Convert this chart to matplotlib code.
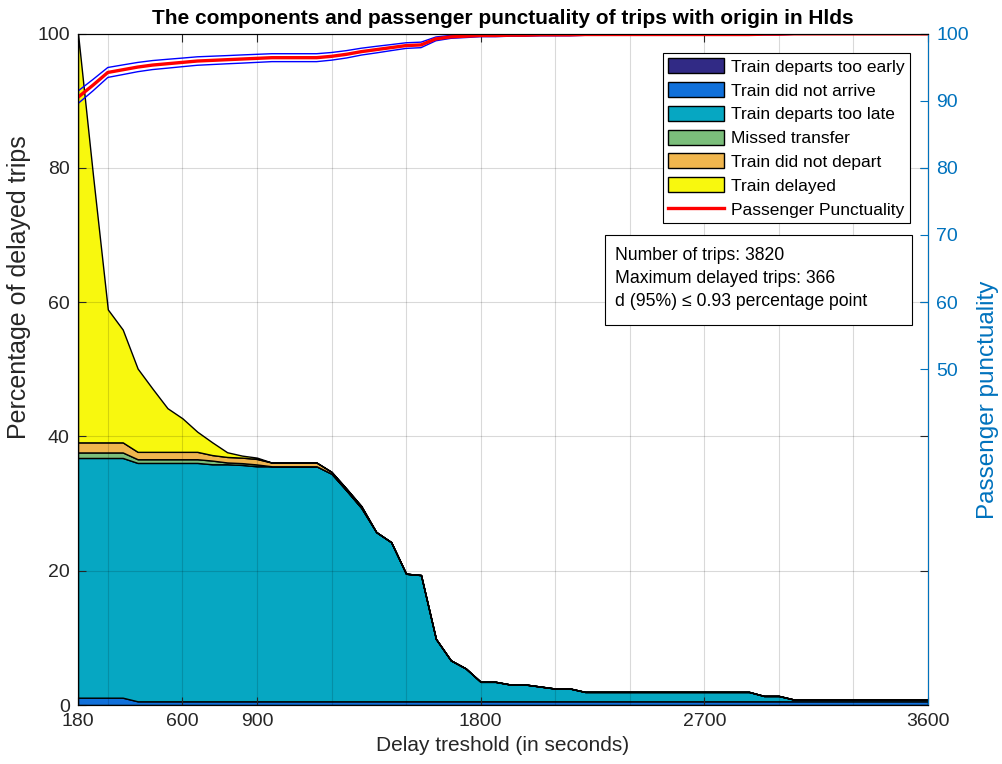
import matplotlib
matplotlib.use("Agg")
import matplotlib.pyplot as plt
from matplotlib.patches import Patch, Rectangle
from matplotlib.lines import Line2D

plt.rcParams['font.family'] = ['Liberation Sans', 'DejaVu Sans']

# delay thresholds (s)
thresholds = [180, 240, 300, 360, 420, 480, 540, 600, 660, 720, 780, 840, 900, 960,
              1020, 1080, 1140, 1200, 1260, 1320, 1380, 1440, 1500, 1560, 1620, 1680,
              1740, 1800, 1860, 1920, 1980, 2040, 2100, 2160, 2220, 2280, 2340, 2400,
              2460, 2520, 2580, 2640, 2700, 2760, 2820, 2880, 2940, 3000, 3060, 3120,
              3180, 3240, 3300, 3360, 3420, 3480, 3540, 3600]

# components, percentage of delayed trips
departs_early = [0.0] * 58
did_not_arrive = [1.09, 1.09, 1.09, 1.09] + [0.55] * 54
departs_late = [35.7, 35.7, 35.7, 35.7, 35.5, 35.5, 35.5, 35.5, 35.5, 35.3, 35.3, 35.2,
                35.0, 35.0, 35.0, 35.0, 35.0, 33.9, 31.4, 28.8, 25.2, 23.7, 19.0, 18.8,
                9.3, 6.1, 4.9, 2.9, 2.9, 2.5, 2.5, 2.2, 1.9, 1.9, 1.4, 1.4, 1.4, 1.4,
                1.4, 1.4, 1.4, 1.4, 1.4, 1.4, 1.4, 1.4, 0.8, 0.8, 0.27, 0.27, 0.27,
                0.27, 0.27, 0.27, 0.27, 0.27, 0.27, 0.27]
missed_transfer = [0.82, 0.82, 0.82, 0.82, 0.55, 0.55, 0.55, 0.55, 0.55, 0.55, 0.27,
                   0.27, 0.27] + [0.0] * 45
did_not_depart = [1.5, 1.5, 1.5, 1.5, 1.1, 1.1, 1.1, 1.1, 1.1, 0.82, 0.82, 0.82, 0.82,
                  0.55, 0.55, 0.55, 0.55, 0.27, 0.27, 0.27] + [0.0] * 38
train_delayed = [60.9, 39.9, 19.8, 16.8, 12.4, 9.4, 6.5, 5.0, 3.0, 1.9, 0.7, 0.3,
                 0.2] + [0.0] * 45

# passenger punctuality (%) and 95% half-width
punctuality = [90.5, 92.3, 94.2, 94.6, 95.0, 95.3, 95.5, 95.7, 95.9, 96.0, 96.1, 96.2,
               96.3, 96.4, 96.4, 96.4, 96.4, 96.6, 96.9, 97.3, 97.6, 97.9, 98.2, 98.3,
               99.2, 99.5, 99.6, 99.7, 99.7, 99.75, 99.75, 99.8, 99.8, 99.8, 99.85,
               99.85, 99.85, 99.85, 99.85, 99.85, 99.85, 99.85, 99.85, 99.85, 99.85,
               99.85, 99.9, 99.9, 99.95, 99.95, 99.95, 99.95, 99.95, 99.95, 99.95,
               99.95, 99.95, 99.95]
half_width = [0.93, 0.85, 0.74, 0.72, 0.69, 0.67, 0.66, 0.64, 0.63, 0.62, 0.61, 0.61,
              0.60, 0.59, 0.59, 0.59, 0.59, 0.57, 0.55, 0.51, 0.49, 0.45, 0.42, 0.41,
              0.28, 0.22, 0.20, 0.17, 0.17, 0.15, 0.15, 0.14, 0.14, 0.14, 0.12, 0.12,
              0.12, 0.12, 0.12, 0.12, 0.12, 0.12, 0.12, 0.12, 0.12, 0.12, 0.10, 0.10,
              0.07, 0.07, 0.07, 0.07, 0.07, 0.07, 0.07, 0.07, 0.07, 0.07]

labels = ['Train departs too early', 'Train did not arrive', 'Train departs too late',
          'Missed transfer', 'Train did not depart', 'Train delayed']
colors = ['#312A85', '#1070DA', '#06A7C2', '#7BBE7B', '#F0B64E', '#F8F80E']
xticks = [180, 600, 900, 1800, 2700, 3600]
info_lines = ['Number of trips: 3820', 'Maximum delayed trips: 366',
              'd (95%) \u2264 0.93 percentage point']
blue = '#0072BD'
dark = '#262626'

W, H = 1002, 764
L, R, T, B = 78, 928, 33.5, 705


def ax_x(px):
    return (px - L) / (R - L)


def ax_y(py):
    return (B - py) / (B - T)


fig = plt.figure(figsize=(W / 100, H / 100), dpi=100)
ax = fig.add_axes([L / W, 1 - B / H, (R - L) / W, (B - T) / H])

polys = ax.stackplot(thresholds, departs_early, did_not_arrive, departs_late,
                     missed_transfer, did_not_depart, train_delayed,
                     colors=colors, edgecolor='black', linewidth=1.0)

ax.set_xlim(180, 3600)
ax.set_ylim(0, 100)
ax.set_xticks(xticks)
ax.set_xticks(list(range(300, 3600, 300)), minor=True)
ax.set_yticks([0, 20, 40, 60, 80, 100])
ax.grid(True, which='both', color='black', alpha=0.15, linewidth=0.8)
ax.set_axisbelow(False)
ax.tick_params(which='major', direction='in', length=6, top=True, right=True,
               labelsize=14, colors=dark, pad=6)
ax.tick_params(which='minor', length=0)
for s in ax.spines.values():
    s.set_color(dark)
    s.set_linewidth(0.8)
ax.set_xlabel('Delay treshold (in seconds)', fontsize=15, color=dark, labelpad=4)
ax.set_ylabel('Percentage of delayed trips', fontsize=18, color=dark)
ax.yaxis.set_label_coords(ax_x(31), ax_y(287))
ax.set_title('The components and passenger punctuality of trips with origin in Hlds',
             fontsize=15, fontweight='bold', color='black', pad=7)

ax2 = ax.twinx()
ax.tick_params(which='major', right=True)
lower = [p - h for p, h in zip(punctuality, half_width)]
upper = [p + h for p, h in zip(punctuality, half_width)]
ax2.plot(thresholds, upper, color='blue', linewidth=1.0)
ax2.plot(thresholds, lower, color='blue', linewidth=1.0)
ax2.plot(thresholds, punctuality, color='red', linewidth=2.4)
ax2.set_ylim(0, 100)
ax2.set_yticks([50, 60, 70, 80, 90, 100])
ax2.tick_params(direction='in', length=6, labelsize=14, colors=blue, pad=6)
ax2.spines['right'].set_color(blue)
ax2.spines['right'].set_linewidth(0.8)
ax2.set_ylabel('Passenger punctuality', fontsize=17.5, color=blue)
ax2.yaxis.set_label_coords(ax_x(977), ax_y(400))

handles = [Patch(facecolor=c, edgecolor='black', linewidth=1.0) for c in colors]
handles.append(Line2D([0], [0], color='red', linewidth=2.4))
leg = ax2.legend(handles, labels + ['Passenger Punctuality'], loc='upper right',
                 bbox_to_anchor=(ax_x(910), ax_y(53)), borderaxespad=0, fontsize=12.5,
                 fancybox=False, framealpha=1, edgecolor='black',
                 handlelength=3.25, handleheight=0.96, labelspacing=0.42,
                 handletextpad=0.4, borderpad=0.3)
leg.get_frame().set_linewidth(0.8)

# info box
ax2.add_patch(Rectangle((ax_x(605), ax_y(325)), ax_x(912) - ax_x(605),
                        ax_y(235) - ax_y(325), transform=ax2.transAxes,
                        facecolor='white', edgecolor='black', linewidth=0.8, zorder=5))
for line, py in zip(info_lines, [255, 278.5, 302]):
    ax2.text(ax_x(615), ax_y(py), line, transform=ax2.transAxes, ha='left',
             va='center', fontsize=12.7, color='black', zorder=6)

fig.savefig('out.png', dpi=100)
